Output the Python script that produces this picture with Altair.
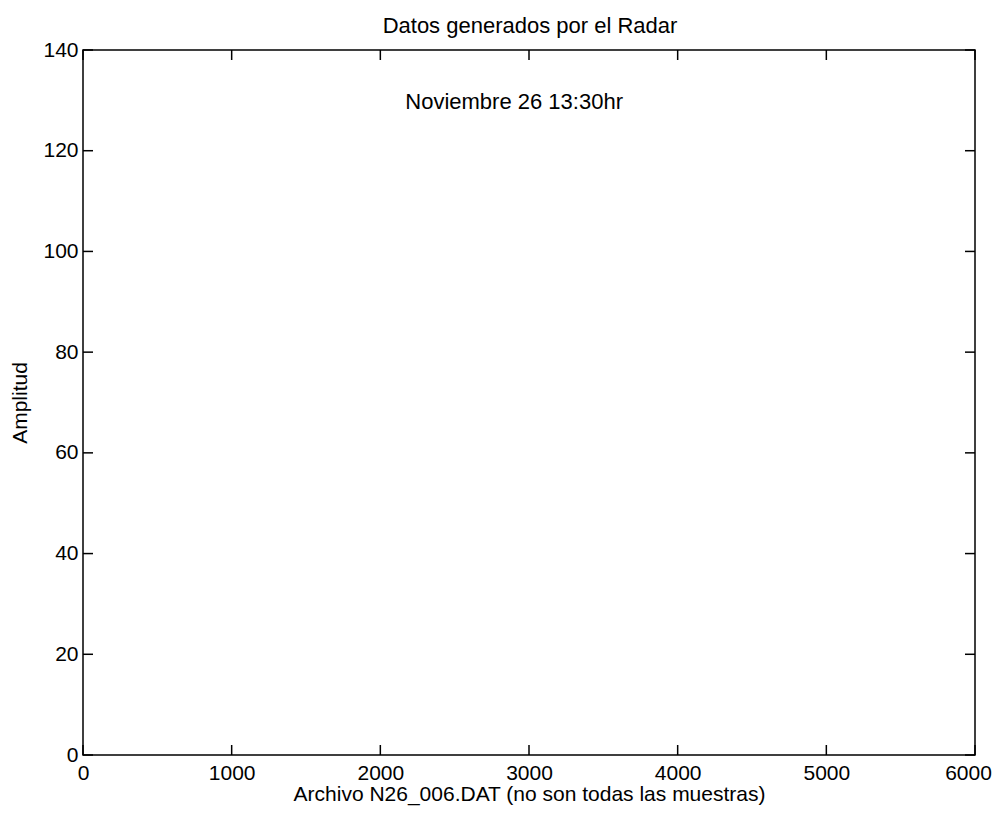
import altair as alt
import pandas as pd

# ---- data ----
x_ticks = [0, 1000, 2000, 3000, 4000, 5000, 6000]
y_ticks = [0, 20, 40, 60, 80, 100, 120, 140]
chart_title = ["Datos generados por el Radar"]
x_label = "Archivo N26_006.DAT (no son todas las muestras)"
y_label = "Amplitud"
note_text = ["Noviembre 26 13:30hr"]
note_x = [2900]
note_y = [128.3]

# ---- style ----
W, H = 892, 705
FONT = "Liberation Sans"
TICK = 10

xs = alt.Scale(domain=[0, 6000], nice=False, zero=False)
ys = alt.Scale(domain=[0, 140], nice=False, zero=False)

xdf = pd.DataFrame({"x": x_ticks})
ydf = pd.DataFrame({"y": y_ticks})
ndf = pd.DataFrame({"x": note_x, "y": note_y, "t": note_text})
tdf = pd.DataFrame({"t": chart_title})

x_axis = alt.Axis(values=x_ticks, format="d", title=x_label, grid=False,
                  domain=False, ticks=False, labelPadding=7, titlePadding=0,
                  labelFontSize=21, titleFontSize=21, labelFont=FONT,
                  titleFont=FONT, titleFontWeight="normal", labelColor="black",
                  titleColor="black", labelFlush=False, labelOverlap=False,
                  labelBound=False,
                  labelOffset=alt.condition("datum.value == 6000",
                                            alt.value(-7), alt.value(0)))
y_axis = alt.Axis(values=y_ticks, format="d", title=y_label, grid=False,
                  domain=False, ticks=False, labelPadding=5, titlePadding=12,
                  labelFontSize=21, titleFontSize=21, labelFont=FONT,
                  titleFont=FONT, titleFontWeight="normal", labelColor="black",
                  titleColor="black", labelFlush=False, labelOverlap=False,
                  labelBound=False)

bottom = alt.Chart(xdf).mark_rule(color="black", strokeWidth=1.5).encode(
    x=alt.X("x:Q", scale=xs, axis=x_axis),
    y=alt.value(H), y2=alt.value(H - TICK))
top = alt.Chart(xdf).mark_rule(color="black", strokeWidth=1.5).encode(
    x=alt.X("x:Q", scale=xs, axis=x_axis),
    y=alt.value(0), y2=alt.value(TICK))
left = alt.Chart(ydf).mark_rule(color="black", strokeWidth=1.5).encode(
    y=alt.Y("y:Q", scale=ys, axis=y_axis),
    x=alt.value(0), x2=alt.value(TICK))
right = alt.Chart(ydf).mark_rule(color="black", strokeWidth=1.5).encode(
    y=alt.Y("y:Q", scale=ys, axis=y_axis),
    x=alt.value(W - TICK), x2=alt.value(W))
note = alt.Chart(ndf).mark_text(font=FONT, fontSize=22, color="black",
                                 baseline="alphabetic", align="center").encode(
    x=alt.X("x:Q", scale=xs, axis=x_axis), y=alt.Y("y:Q", scale=ys, axis=y_axis),
    text="t:N")
title = alt.Chart(tdf).mark_text(font=FONT, fontSize=22, color="black",
                                  baseline="alphabetic", align="center").encode(
    x=alt.value(W / 2 + 1), y=alt.value(-17), text="t:N")

chart = alt.layer(bottom, top, left, right, note, title).properties(
    width=W, height=H,
    background="white",
    autosize=alt.AutoSizeParams(type="none"),
    padding={"left": 75, "top": 42, "right": 17, "bottom": 51},
).configure_view(stroke="black", strokeWidth=1.5)

chart.save("out.html", embed_options={"renderer": "svg", "actions": False})
